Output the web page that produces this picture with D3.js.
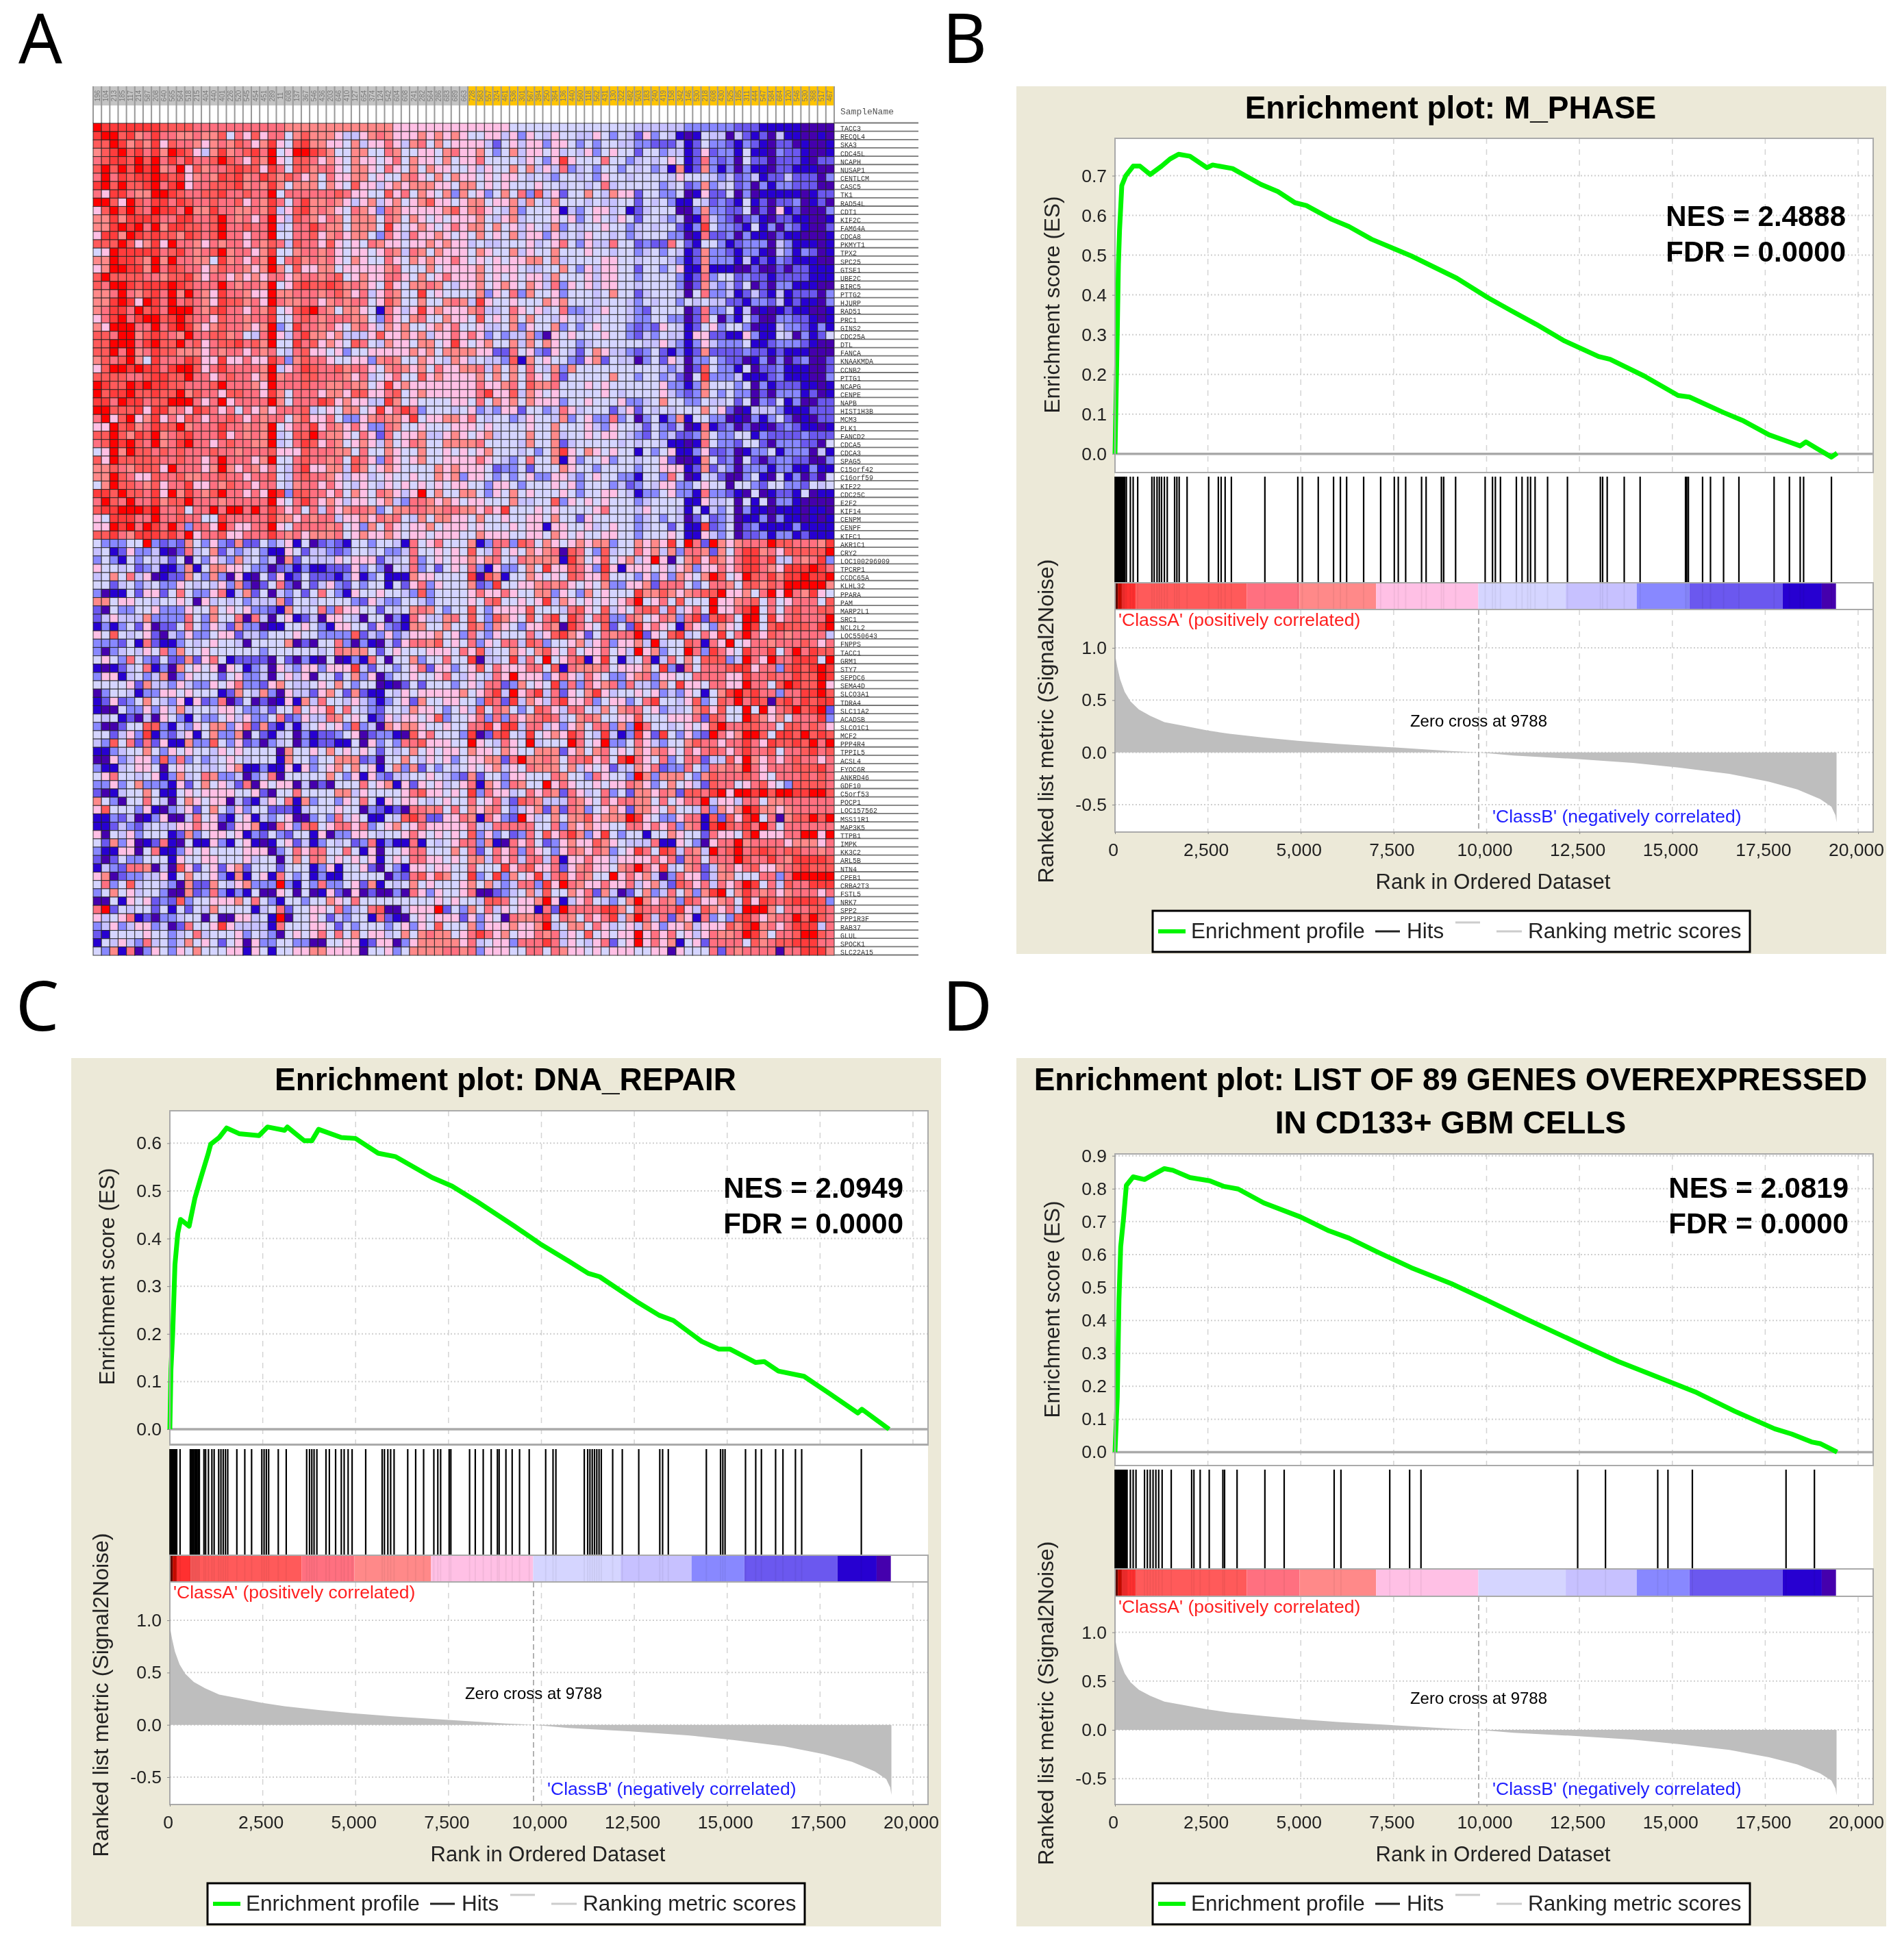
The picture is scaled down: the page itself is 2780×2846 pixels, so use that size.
<!DOCTYPE html>
<html>
<head>
<meta charset="utf-8">
<script src="https://cdn.jsdelivr.net/npm/d3@7/dist/d3.min.js"></script>
<style>
  html, body { margin: 0; background: #fff; }
  svg { display: block; filter: blur(0.6px); font-family: "Liberation Sans", sans-serif; }
</style>
</head>
<body>
<svg id="fig"></svg>
<script>
// heat map: one hex digit per cell, 0 = darkest purple ... b = pure red
const heatPalette = ["#4500ad","#2700d1","#6b58ef","#8888ff","#c7c1ff","#d5d5ff","#ffc0e5","#ff8989","#ff7080","#ff5a5a","#ff3c3c","#ff0000"]

const heatRows = [
"baaaa aaa99 99888 88888 88877 77777 77777 76666 66666 66666 55555 55555 55555 44444 43333 33222 11111 0000",
"abb9a 78a88 77877 95869 68857 97776 44678 76667 67676 55664 63654 65544 65354 26354 10154 40421 20411 0010",
"99ba7 97a69 88767 87986 7a659 a7766 57466 86478 57566 66425 64663 66535 35544 33222 41253 32132 10220 1001",
"79ab9 a8a7b a9647 a789a 8b56b ba975 57755 87556 65786 67535 74665 64546 35655 25534 41262 33151 10322 1001",
"89aa9 b9b8a 8a889 b9869 7b659 98676 57665 68576 65756 68555 54653 6a655 58553 45456 51283 23052 20222 1022",
"9b9b9 bab78 b6978 89a99 6a859 97886 57765 86575 76655 64655 75746 48345 35535 45341 71273 13031 10221 1100",
"8b8a9 aaba9 a6787 a9a78 a9798 67586 67756 55786 57576 65656 65454 35545 36554 55554 65554 34234 12242 2203",
"ab9b9 9ab8a b6889 99a78 7a757 77576 59664 67677 76657 75656 55565 54554 58455 55534 52373 45230 31332 2200",
"86aa8 77bba 98899 a8898 8b588 88889 86655 96857 65737 56357 58394 62557 54766 25533 50162 25030 11111 0122",
"bb96b 98aa8 a9889 88968 7a858 a7787 64674 67567 96656 77566 74754 75554 54455 25453 11542 32151 20223 0120",
"69b9b 98baa 8b77a 88778 7a469 a7876 58763 87666 66796 78654 73555 61435 66451 24555 00373 32250 20612 0003",
"77a7a aaa88 aa889 b8786 8b649 87687 57775 87576 56566 67546 74555 65635 65465 25543 40184 32023 10221 1001",
"77aba b8b7a a9989 b8898 8b458 8a877 57775 a6567 65686 77575 64654 73545 56553 45455 213a5 33215 13032 1002",
"6aa7b a9a99 7a989 b8868 8b558 89678 67753 86486 67656 57565 74663 64546 55453 45553 30182 23031 10211 0001",
"999b9 67a6b 88768 78868 79849 88696 56587 66566 76766 45445 55645 68536 44855 23228 52155 31233 30431 1101",
"56baa aaa89 a8789 b7886 7a557 88786 56656 87487 57666 57655 74655 75556 55455 34535 41273 32133 10431 3201",
"77baa 97b7b 88775 a7868 7b589 78786 57655 86576 76686 56565 66775 74555 56655 45554 31273 33141 21321 1100",
"67bba a7b8a 98867 98876 7b759 66775 66666 78555 75666 67566 65445 57536 46655 25535 61171 11002 00202 2111",
"9b999 98879 9a768 86767 68867 88789 56766 88657 56866 67565 65664 75556 46655 35555 31283 55232 21222 2111",
"98bba 9aaab a9888 b8788 7b569 a99a9 78765 96577 87546 67567 65764 83656 46655 45555 30274 34250 20331 1100",
"778b8 79a8b 7b876 a8876 6b778 88789 76846 8755a 56555 57365 83755 63555 45755 24555 40583 34124 21412 2203",
"77aba 6ba8b 89876 a9978 6b877 88678 78856 97557 55787 4a655 65557 67555 45554 35455 35454 42213 32412 1103",
"78aa8 b9a8b bb879 a8868 7a569 ab875 77651 8646a 67666 78445 86564 58334 46554 32555 50283 35140 10121 1001",
"68ab8 abb9a b9886 98878 8a558 98788 87753 86578 55766 59565 75755 46544 55554 33553 30285 03152 00332 2101",
"76bbb 88b8a ba767 98876 7b35a 88786 57864 76755 67685 56445 73655 73535 65553 23265 41256 35530 11433 2131",
"998bb 79a98 7b889 97854 8b648 a7767 44469 66767 46686 86353 44730 65655 56553 24354 41662 21163 11540 3125",
"99bbb 8ab99 b8968 99a89 7b55a 89676 59854 76657 756a6 56755 74757 65534 55555 54464 31364 33351 12333 2100",
"99b8b 78a99 77768 78868 78548 96656 35566 66676 75777 76622 85632 65425 76443 23521 31272 22232 21211 1000",
"7989b 75a88 8a966 a6686 6a837 98865 56637 87557 65476 45443 91756 55326 72544 03526 40335 32201 30302 3002",
"69bba baa8a bb968 a8888 7b468 a9889 78865 78767 58667 78475 75854 73755 55555 55543 40295 33150 22311 1002",
"99998 89aa9 9b886 89886 7b788 99888 76845 68559 67666 67575 75865 82555 55755 35534 205a3 33411 12311 1003",
"ba99b abaa9 98889 b8887 6b888 98877 87756 a6766 66666 68667 85977 85556 56555 55563 31375 55350 31222 1101",
"b9aab 99a99 b7988 69988 6a758 88677 69966 89567 66666 68a66 94765 65555 56545 55564 32375 35330 20333 1201",
"aa8ba a899b bb868 b6888 8b758 88a96 76644 a7565 55566 58576 75766 63556 55563 34575 53354 45250 32513 0022",
"bb999 a6aa7 86a98 68586 76888 94565 7756a 68a83 55545 63436 62553 48645 55246 25454 55575 62014 44311 1222",
"8b69b 67a68 69868 89868 78857 96685 33678 776a5 66776 85455 34655 47356 33835 03513 71553 30103 13520 1022",
"66b9a 78a99 b7888 a8878 7b568 8a687 68633 87556 55566 65655 55655 75556 43655 42532 40181 23020 10232 1101",
"99b97 a9b78 9a888 a6878 7b459 9b877 65862 85667 44676 56745 55755 74556 56654 32534 22375 33551 32222 3222",
"89bab 98b78 ab886 89887 7b458 a9687 56764 75687 55777 78555 54755 72455 55545 45541 10185 33255 20333 2205",
"56b7b 99898 98889 88788 89666 98887 75855 76557 55656 56755 54535 7a657 65655 15356 11362 23013 35133 3041",
"96b99 99988 98868 b8886 7b558 98878 59863 86567 55666 68654 35855 71635 56355 45562 00175 23052 02332 2003",
"77987 9996b 88867 b7687 68548 a6677 49756 76555 57676 66523 35255 57655 35555 35566 61272 43033 31331 1311",
"77b98 66988 97788 98868 89548 98876 46645 65565 57673 66535 35633 66435 65533 15538 50154 20035 10513 0205",
"57b99 87968 8a668 79886 88547 88686 54654 65656 56566 55366 53555 65635 55342 35466 33565 50553 25533 2545",
"aa9b9 98a6b 7a879 b8868 6ba39 98868 57658 7646b 57557 75365 75655 56535 56654 13356 33183 32105 01221 5011",
"8b98b 88a79 9b888 78888 8b658 a8676 46656 74388 76765 66555 74455 93656 56555 34555 51164 45051 50331 0000",
"9aabb bab88 9588b 8bb8b 8a868 58486 78873 57788 77887 7686a 55565 65555 68555 46555 41514 35031 10111 0110",
"65aaa 88b88 98855 a8888 8a776 87884 66768 78547 57766 57556 55665 75526 55555 34535 40252 34011 30311 0101",
"66bab 8ba8b 83886 b8668 8b658 88878 56375 86566 75666 56555 65661 66556 45655 34552 511a2 35023 11113 1111",
"99a87 aaa9a 8b688 96688 8a878 67778 56766 76566 56665 57666 55665 76565 56655 35556 51164 35022 31331 2111",
"53335 5b323 27536 32722 53461 50232 15535 54185 68555 71388 39857 65676 77355 7676a 5b82b 76788 8b998 887a",
"45126 33410 28457 24345 31165 24432 35545 33485 56565 95485 65767 80985 39455 86747 38872 758aa 78699 999b",
"35315 35442 50536 43745 34072 54446 56662 44583 56566 76785 48777 71a75 69567 46b60 57969 768aa 8a448 78a3",
"65545 23411 37157 76653 30231 31122 26353 05483 52565 83163 3575a 66986 3a616 66564 67366 868aa 876aa aba8",
"45758 46012 27537 30610 52612 52221 36135 11176 65555 a0971 55765 65986 69555 36363 7657b 956b9 8a7aa baab",
"55245 34533 65454 63720 25820 52463 25355 15268 36555 723a5 56678 78656 57336 67288 85358 87599 798bb bbb7",
"30115 26625 85336 81472 50435 25853 16556 55439 35555 68668 65577 36537 56555 a7797 67899 b6675 8b6b8 7a65",
"77566 55455 65064 54534 44725 54555 53264 33554 35555 65895 5656a 47656 56568 b5685 9555b 66789 58568 8859",
"20533 55633 36557 56563 32175 45838 66552 54578 75355 95366 66955 54896 59465 89949 4685b 668ab 58589 8899",
"24644 47333 38537 55808 40561 24066 54055 03186 44785 95397 65958 a5a85 89338 75687 38a29 a85bb 5a689 888b",
"13135 26022 58536 42733 01155 65316 65526 32177 55755 97376 53668 70a86 59252 a6865 18653 765ba 59a99 98ab",
"65954 56204 36335 66244 35556 55333 39243 63466 67563 84365 55846 9a762 58788 b2659 a4586 a58b8 69878 8884",
"33325 18211 35456 55405 55570 20558 30310 42688 79565 83658 84983 55674 68366 74b45 59818 6b568 87888 9868",
"30345 46583 75565 55555 35555 55458 77752 56555 66658 69455 76579 65856 68564 b6735 5b83a 865a8 8a58b 8a99",
"56538 53252 27268 51222 20520 31050 13185 05573 55855 a0445 a485b 56891 6a514 58148 57599 934b8 6b88a aa5b",
"10124 58130 75656 06513 40643 66366 6a425 53568 26635 69586 66885 91877 78566 675a3 08588 89aa6 8839a 9aba",
"36614 53470 36555 25633 40564 60552 57360 35565 56854 65486 b6663 68648 65336 78366 55888 866a8 8988a 99ba",
"55556 27443 64336 56833 26754 45657 53550 10252 55535 64882 37565 a3838 67838 44375 a6658 866b8 859ba 99b6",
"03554 13366 56555 12754 73064 42675 27211 54656 66667 568a4 b68a4 82657 a6455 65634 36515 7ab9a 88388 aab9",
"12623 57543 61623 80250 20161 74855 46431 35627 55665 53982 a4764 8a668 35663 58a55 46935 98b8a 909a8 a9aa",
"10053 36364 74554 66533 42558 56695 85432 55476 65356 49587 53598 64885 47578 85634 45796 955b5 b689b 9ab2",
"54512 04065 31533 56463 35823 64487 56512 64665 69355 68383 86789 84578 75566 95556 66829 855b9 76758 88a3",
"30025 59931 43657 73682 72141 45656 39340 76776 55655 88a6a a4884 63675 88373 b8554 56569 b8899 88599 8986",
"55246 3a132 46157 33705 21450 31223 56023 31096 85553 a029a 54a56 76a85 4a413 a62a5 3632b 867bb 95aa9 b9a9",
"43958 28261 17339 53623 03450 31221 15063 53889 66655 b6548 65b45 55b85 6b335 86435 57988 688a8 6a99a 9b8b",
"11345 57536 56554 65655 55075 56575 65652 54575 65665 76657 65577 72675 78565 76786 58689 868a8 89588 9a89",
"00634 66393 83534 56545 55175 53557 77230 55754 65635 66772 8b778 75889 685ab 86583 58824 496b7 68689 8868",
"31145 66505 65544 56711 31161 63567 57561 57372 53545 65674 65877 75746 56244 76823 38538 787b8 68889 99a8",
"56855 45613 74587 33403 48055 55575 36163 24455 65432 72553 66555 87553 86553 b7377 75379 88898 65888 9898",
"33635 73331 62575 64280 65660 40205 55856 71626 56456 81763 8755b 68655 65668 76357 56429 88568 96539 9998",
"20145 57511 56566 66556 20558 55557 74655 55689 66565 a3866 45868 72864 58352 77687 2998a b6bba b9bba abb9",
"75305 58540 57656 60421 46581 73553 65851 65665 45655 85684 29874 44876 58688 77585 688b4 66488 57788 8888",
"69555 36103 46257 53635 52221 45556 55032 12088 78585 76785 34672 72873 56762 77657 55483 767ba 77678 8888",
"11324 01360 04856 21561 43560 03538 46511 549a8 22668 71863 2b645 75779 6777b a6533 68819 296ab 58079 9b9b",
"11243 24544 66866 02667 10863 89568 86835 67568 66666 84488 88855 83767 66558 86868 3781a b98a8 b8588 8888",
"60546 35551 27356 65613 25325 51603 36654 55686 56565 93635 23859 68a73 6a535 51557 65528 6659b 66688 bb6b",
"52736 01281 05116 31561 01562 41354 52381 31181 54568 83710 86852 36766 97654 44811 65306 88b78 88867 7768",
"31166 05811 36565 55566 60358 68855 85160 55688 55575 82586 83865 36876 87356 a85a9 4874b 89b89 a9899 8878",
"20253 35551 65566 55564 55057 58756 56561 56588 66565 77486 84884 81668 66466 66868 27858 88b98 8a87a aaa9",
"14328 87040 96256 26725 55255 51361 55620 53166 56655 8555a 68966 82678 66578 b86a4 57824 78689 66789 a999",
"67023 34461 57556 31715 61853 51311 55555 03289 69755 a35a3 756a4 89687 55b68 67403 86624 77555 8838b bbbb",
"58359 45543 07227 54673 33b31 53833 56271 54575 65556 75743 4883a 6b876 68668 46742 98684 868ba 58498 8aaa",
"35756 45530 07238 31315 00650 50162 06020 03086 36556 80023 45749 55768 27402 57348 5737a b57a8 78678 8868",
"00516 56232 93556 66758 53155 35576 58555 55555 56565 54998 5667b 61468 54357 b7687 39866 785a6 a989a aa93",
"8b254 55251 52547 55551 45825 56658 34589 00466 6b253 75846 56618 2b888 8aa75 98888 a6497 684bb b7588 8998",
"64568 12033 45505 00664 51b05 56524 35518 21056 56662 63650 8778a 58758 68a47 b8482 76183 539a8 6788b 9b98",
"34634 66340 28556 a6444 41855 56652 53555 35636 59555 73666 7667b 45775 86456 47636 67466 697ab 7868a aa48",
"21555 56553 45845 55635 43056 56858 57566 45757 87756 8a867 56687 84659 56566 b6868 56468 778ba 75889 bb98",
"15464 38453 47565 25606 33553 30055 66126 60367 77776 84566 3888a 84654 68256 b6867 15628 88859 7899a aa88",
"53718 03653 65755 56616 51556 67766 66055 63577 77887 83666 55885 87665 65666 55660 65558 28788 88088 aaa7"
].map(s => s.replace(/ /g, "").split("").map(c => parseInt(c, 16)))

const greySamples = ["196","104","213","185","117","214","587","208","640","565","564","518","215","404","440","401","226","520","545","454","451","289","11","608","137","367","546","436","203","646","410","127","654","374","124","542","604","608","241","282","564","286","683","689","663"]
const goldSamples = ["728","583","557","324","461","536","301","567","394","250","364","136","440","560","118","562","431","130","322","482","503","183","240","419","158","342","146","530","218","608","430","525","185","311","444","547","584","664","120","546","530","368","517","467"]
const geneNames = ["TACC3","RECQL4","SKA3","CDC45L","NCAPH","NUSAP1","CENTLCM","CASC5","TK1","RAD54L","CDT1","KIF2C","FAM64A","CDCA8","PKMYT1","TPX2","SPC25","GTSE1","UBE2C","BIRC5","PTTG2","HJURP","RAD51","PRC1","GINS2","CDC25A","DTL","FANCA","KNAAKMDA","CCNB2","PTTG1","NCAPG","CENPE","NAPB","HIST1H3B","MCM3","PLK1","FANCD2","CDCA5","CDCA3","SPAG5","C15orf42","C16orf59","KIF22","CDC25C","E2F2","KIF14","CENPM","CENPF","KIFC1",
"AKR1C1","CRY2","LOC100296909","TPCRP1","CCDC65A","KLHL32","PPARA","PAM","MARP2L1","SRC1","NCL2L2","LOC550643","FNPPS","TACC1","GRM1","STY7","SEPDC6","SEMA4D","SLCO3A1","TDRA4","SLC11A2","ACADSB","SLCO1C1","MCF2","PPP4R4","TPPIL5","ACSL4","FYOC6R","ANKRD46","GDF10","C5orf53","POCP1","LOC157562","MSS11R1","MAP3K5","TTPB1","IMPK","KK3C2","ARL5B","NTN4","CPEB1","CRBA2T3","FSTL5","NRK7","SPP2","PPP1R3F","RAB37","GLUL","SPOCK1","SLC22A15"]

// enrichment curves as [rank, score]
const esB = [[0,0],[46,.224],[92,.477],[122,.562],[183,.675],[290,.70],[490,.724],[672,.724],[947,.703],[1253,.724],[1482,.742],[1711,.754],[2017,.749],[2475,.72],[2628,.727],[3163,.718],[3927,.678],[4385,.66],[4843,.632],[5149,.625],[5837,.59],[6295,.572],[6906,.54],[7975,.498],[9198,.442],[10038,.393],[10649,.361],[11337,.326],[12101,.284],[13017,.245],[13323,.238],[14240,.196],[15157,.147],[15462,.143],[16379,.104],[16914,.083],[17601,.048],[18136,.03],[18441,.02],[18594,.03],[18900,.013],[19282,-.008],[19435,.002]]
const esC = [[0,0],[30,.126],[76,.2],[137,.345],[214,.411],[290,.44],[519,.426],[672,.484],[825,.525],[1024,.576],[1100,.598],[1329,.612],[1528,.632],[1864,.62],[2399,.616],[2628,.634],[3086,.627],[3163,.634],[3621,.605],[3820,.605],[4003,.629],[4614,.612],[4996,.61],[5607,.579],[6066,.572],[7059,.528],[7594,.51],[8281,.477],[9274,.426],[9962,.389],[10726,.353],[11260,.327],[11566,.32],[12559,.268],[13170,.239],[13552,.228],[14316,.184],[14775,.168],[15080,.168],[15768,.14],[15997,.142],[16379,.122],[17067,.111],[17754,.075],[18518,.034],[18625,.042],[19358,0]]
const esD = [[0,0],[61,.167],[107,.464],[153,.624],[229,.709],[305,.81],[489,.836],[794,.828],[1100,.847],[1329,.861],[1558,.856],[2017,.834],[2551,.824],[2933,.807],[3315,.799],[4003,.757],[4996,.714],[5760,.672],[6295,.65],[7059,.608],[7975,.56],[9045,.512],[9962,.464],[11031,.406],[12559,.326],[13552,.275],[14545,.231],[15614,.183],[16684,.124],[17754,.071],[18212,.055],[18747,.031],[18976,.026],[19435,0]]

// hit positions in the ranked list
const hitsB = [5,25,45,65,85,105,125,145,165,185,205,225,245,265,306,413,489,611,993,1054,1131,1192,1253,1329,1406,1604,1665,1727,1940,2521,2781,2857,2964,3132,4034,4920,5042,5470,5882,6066,6234,6692,7150,7517,7624,7823,8251,8373,8785,8846,9167,9962,10160,10237,10374,10802,10955,11108,11184,11306,11642,12177,13063,13124,13247,13705,14133,15355,15386,15432,15814,16027,16379,16792,17739,18151,18441,18533,19282]
const hitsC = [5,25,45,65,85,105,125,145,165,185,275,550,580,611,640,672,700,733,765,794,917,963,1039,1131,1192,1314,1375,1436,1497,1558,1803,2017,2200,2475,2536,2597,2659,2918,3132,3682,3759,3820,3881,3957,4202,4293,4461,4614,4691,4798,4905,5271,5714,5775,5867,5943,6035,6402,6616,6830,7105,7212,7288,7517,7563,8067,8220,8434,8648,8816,8862,9045,9213,9412,9672,10115,10313,10390,11154,11245,11306,11368,11429,11490,11551,11612,11918,12177,12620,13186,13262,13415,14439,14821,14882,14943,15493,15768,15921,16303,16501,16837,17005,18610]
const hitsD = [5,25,45,65,85,105,125,145,165,185,205,225,245,265,285,305,325,413,489,565,794,871,947,1024,1100,1176,1268,1513,2063,2124,2292,2536,2903,2949,3285,4034,4553,5898,6081,7395,7930,8235,12452,13201,14607,14882,15539,18060,18824]

// correlation profile shared by all three plots
const metricProfile = [[0,.94],[61,.82],[137,.70],[260,.58],[413,.49],[642,.41],[947,.35],[1329,.29],[1864,.253],[2475,.21],[3086,.178],[4003,.142],[4920,.111],[5989,.081],[7364,.051],[9045,.012],[9788,0],[10726,-.03],[12406,-.063],[13934,-.1],[15157,-.145],[16532,-.205],[17601,-.28],[18364,-.355],[18976,-.446],[19282,-.52],[19389,-.6],[19420,-.67]]

const barBreaks = [0,76,183,565,3545,4966,7028,9778,12131,14041,15462,17968,19022,19404]
const barColors = ["#6b0c00","#d60c00","#ff3030","#ff5a5a","#ff7080","#ff8989","#ffc0e5","#d5d5ff","#c7c1ff","#8888ff","#6b58ef","#2700d1","#4500ad"]

const xTicks = [0,2500,5000,7500,10000,12500,15000,17500,20000]
const esTicksB = [0,.1,.2,.3,.4,.5,.6,.7]
const esTicksC = [0,.1,.2,.3,.4,.5,.6]
const esTicksD = [0,.1,.2,.3,.4,.5,.6,.7,.8,.9]
const metricTicks = [-.5,0,.5,1]
const zeroCross = 9788

const svg = d3.select("#fig").attr("width", 2780).attr("height", 2846)
svg.append("rect").attr("width", 2780).attr("height", 2846).attr("fill", "#fff")

// panel letters
const panelLetters = [["A",27,92],["B",1376,92],["C",23,1505],["D",1376,1505]]
svg.selectAll("text.letter").data(panelLetters).enter().append("text")
  .attr("class", "letter")
  .attr("x", d => d[1]).attr("y", d => d[2])
  .style("font-family", "'Noto Sans'").style("font-size", "100px")
  .text(d => d[0])

// ---- panel A heat map ----
const samples = greySamples.concat(goldSamples)
const heatX = d3.scaleBand().domain(d3.range(samples.length)).range([136, 1218])
const heatY = d3.scaleBand().domain(d3.range(geneNames.length)).range([180, 1395])
const heatColor = d3.scaleOrdinal().domain(d3.range(12)).range(heatPalette)

const heat = svg.append("g")

heat.selectAll("rect.head").data(samples).enter().append("rect")
  .attr("x", (d, i) => heatX(i)).attr("y", 126)
  .attr("width", heatX.bandwidth()).attr("height", 28)
  .attr("fill", (d, i) => i < greySamples.length ? "#c4c4c4" : "#ffc400")

heat.selectAll("line.sep").data(d3.range(samples.length + 1)).enter().append("line")
  .attr("x1", i => 136 + i * heatX.step()).attr("x2", i => 136 + i * heatX.step())
  .attr("y1", 126).attr("y2", 180)
  .attr("stroke", "#999").attr("stroke-width", 2)

heat.selectAll("text.sample").data(samples).enter().append("text")
  .attr("transform", (d, i) => `translate(${heatX(i) + heatX.bandwidth() / 2 + 3.5},140) rotate(-90)`)
  .attr("text-anchor", "middle")
  .style("font-size", "10px").style("fill", "#777")
  .text(d => d)

const heatRow = heat.selectAll("g.row").data(heatRows).enter().append("g")
heatRow.selectAll("rect").data((d, i) => d.map((v, j) => ({ v, j, i }))).enter().append("rect")
  .attr("x", d => heatX(d.j)).attr("y", d => heatY(d.i))
  .attr("width", heatX.bandwidth()).attr("height", heatY.bandwidth())
  .attr("fill", d => heatColor(d.v))
  .attr("stroke", "#222").attr("stroke-width", 1.1).attr("stroke-opacity", 0.8)

heat.append("text").attr("x", 1227).attr("y", 167)
  .style("font-family", "'Liberation Mono'").style("font-size", "13px").style("fill", "#555")
  .text("SampleName")

heat.selectAll("line.rowline").data(d3.range(geneNames.length + 1)).enter().append("line")
  .attr("x1", 1218).attr("x2", 1341)
  .attr("y1", i => 180 + i * heatY.step() - 0.5).attr("y2", i => 180 + i * heatY.step() - 0.5)
  .attr("stroke", "#777").attr("stroke-width", 1.8)

heat.selectAll("text.gene").data(geneNames).enter().append("text")
  .attr("x", 1227).attr("y", (d, i) => heatY(i) + heatY.bandwidth() - 1)
  .style("font-family", "'Liberation Mono'").style("font-size", "10px").style("fill", "#333")
  .text(d => d)

// ---- panels B, C, D enrichment plots ----
function enrichmentPlot(p) {
  const g = svg.append("g")

  g.append("rect").attr("x", p.left - 144).attr("y", p.top)
    .attr("width", 1270).attr("height", p.bottom - p.top).attr("fill", "#ece9d8")

  p.title.forEach((t, i) => {
    g.append("text").attr("x", p.titleX).attr("y", p.titleY + i * 63)
      .attr("text-anchor", "middle")
      .style("font-size", "46px").style("font-weight", "bold")
      .text(t)
  })

  const plotRight = p.left + 1107
  const x = d3.scaleLinear().domain([0, 20000]).range([p.left, p.left + 1085])
  const yEs = d3.scaleLinear().domain(p.esDomain).range([p.esBottom, p.esTop])
  const yMetric = d3.scaleLinear().domain(p.metricDomain).range([p.rankBottom, p.barBottom])

  g.append("rect").attr("x", p.left).attr("y", p.esTop)
    .attr("width", plotRight - p.left).attr("height", p.rankBottom - p.esTop)
    .attr("fill", "#fff")

  // grid
  const vGrid = (y1, y2) => g.append("g").selectAll("line").data(xTicks.slice(1)).enter().append("line")
    .attr("x1", d => x(d)).attr("x2", d => x(d)).attr("y1", y1).attr("y2", y2)
    .attr("stroke", "#d4d4d4").attr("stroke-width", 1.5).attr("stroke-dasharray", "8,8")
  vGrid(p.esTop, p.esBottom)
  vGrid(p.barBottom, p.rankBottom)

  const hGrid = (ticks, y) => g.append("g").selectAll("line").data(ticks).enter().append("line")
    .attr("x1", p.left).attr("x2", plotRight).attr("y1", d => y(d)).attr("y2", d => y(d))
    .attr("stroke", "#cfcfcf").attr("stroke-width", 2).attr("stroke-dasharray", "2,3")
  hGrid(p.esTicks, yEs)
  hGrid(metricTicks, yMetric)

  // hits
  g.append("g").selectAll("line").data(p.hits).enter().append("line")
    .attr("x1", d => x(d)).attr("x2", d => x(d))
    .attr("y1", p.hitsTop).attr("y2", p.barTop - 1)
    .attr("stroke", "#000").attr("stroke-width", 2.2)

  // colour bar
  g.append("g").selectAll("rect").data(barColors).enter().append("rect")
    .attr("x", (d, i) => x(barBreaks[i])).attr("y", p.barTop)
    .attr("width", (d, i) => x(barBreaks[i + 1]) - x(barBreaks[i]))
    .attr("height", p.barBottom - p.barTop)
    .attr("fill", d => d)
  g.append("g").selectAll("line").data(p.hits).enter().append("line")
    .attr("x1", d => x(d)).attr("x2", d => x(d))
    .attr("y1", p.barTop).attr("y2", p.barBottom)
    .attr("stroke", "#000").attr("stroke-opacity", 0.05).attr("stroke-width", 2)

  // ranking metric
  const area = d3.area().x(d => x(d[0])).y0(yMetric(0)).y1(d => yMetric(d[1]))
  g.append("path").datum(metricProfile).attr("d", area).attr("fill", "#bebebe")

  // zero cross marker
  g.append("line").attr("x1", x(zeroCross)).attr("x2", x(zeroCross))
    .attr("y1", p.barBottom).attr("y2", p.rankBottom)
    .attr("stroke", "#999").attr("stroke-width", 1.5).attr("stroke-dasharray", "8,5")
  g.append("text").attr("x", x(zeroCross)).attr("y", yMetric(0) - 38)
    .attr("text-anchor", "middle").style("font-size", "24px")
    .text("Zero cross at " + zeroCross)

  // class labels
  g.append("text").attr("x", p.left + 5).attr("y", p.barBottom + 24)
    .style("font-size", "26.5px").style("fill", "#ff2020")
    .text("'ClassA' (positively correlated)")
  g.append("text").attr("x", p.left + 551).attr("y", p.rankBottom - 14)
    .style("font-size", "26.5px").style("fill", "#2020ff")
    .text("'ClassB' (negatively correlated)")

  // ES curve
  g.append("line").attr("x1", p.left).attr("x2", plotRight)
    .attr("y1", yEs(0)).attr("y2", yEs(0)).attr("stroke", "#aaa").attr("stroke-width", 3.5)
  const esLine = d3.line().x(d => x(d[0])).y(d => yEs(d[1]))
  g.append("path").datum(p.es).attr("d", esLine)
    .attr("fill", "none").attr("stroke", "#00f500").attr("stroke-width", 7)
    .attr("stroke-linejoin", "round")

  // frames
  const frame = [[p.esTop, p.esBottom], [p.esBottom, p.hitsTop - 6], [p.barTop, p.barBottom], [p.barBottom, p.rankBottom]]
  g.append("g").selectAll("rect").data(frame).enter().append("rect")
    .attr("x", p.left).attr("y", d => d[0])
    .attr("width", plotRight - p.left).attr("height", d => d[1] - d[0])
    .attr("fill", "none").attr("stroke", "#aaa").attr("stroke-width", 2)

  // axes
  const xAxis = g.append("g").attr("transform", `translate(0,${p.rankBottom})`)
    .call(d3.axisBottom(x).tickValues(xTicks).tickFormat(d3.format(",")).tickSize(3).tickPadding(13))
  xAxis.selectAll("text").attr("dx", -3)
  const esAxis = g.append("g").attr("transform", `translate(${p.left},0)`)
    .call(d3.axisLeft(yEs).tickValues(p.esTicks).tickFormat(d => d.toFixed(1)).tickSize(4).tickPadding(8))
  const metricAxis = g.append("g").attr("transform", `translate(${p.left},0)`)
    .call(d3.axisLeft(yMetric).tickValues(metricTicks).tickFormat(d => d.toFixed(1)).tickSize(4).tickPadding(8))
  ;[xAxis, esAxis, metricAxis].forEach(a => {
    a.select(".domain").remove()
    a.selectAll("text").style("font-size", "26.5px").style("font-family", "'Liberation Sans'").style("fill", "#222")
    a.selectAll("line").attr("stroke", "#888")
  })

  // axis titles
  g.append("text").attr("transform", `translate(${p.left - 81},${p.esLabelY}) rotate(-90)`)
    .attr("text-anchor", "middle").style("font-size", "31.5px").style("fill", "#222")
    .text("Enrichment score (ES)")
  g.append("text").attr("transform", `translate(${p.left - 90},${p.metricLabelY}) rotate(-90)`)
    .attr("text-anchor", "middle").style("font-size", "32px").style("fill", "#222")
    .text("Ranked list metric (Signal2Noise)")
  g.append("text").attr("x", p.left + 552).attr("y", p.lower + 1298)
    .attr("text-anchor", "middle").style("font-size", "31px").style("fill", "#222")
    .text("Rank in Ordered Dataset")

  // statistics
  p.stats.forEach((t, i) => {
    g.append("text").attr("x", p.statsX).attr("y", p.statsY + i * 52)
      .attr("text-anchor", "end").style("font-size", "42px").style("font-weight", "bold")
      .text(t)
  })

  // legend
  const ly = p.lower + 1360
  const lx = p.left + 55
  const legend = g.append("g")
  legend.append("rect").attr("x", lx).attr("y", ly - 30).attr("width", 872).attr("height", 60)
    .attr("fill", "#fff").attr("stroke", "#000").attr("stroke-width", 3)
  legend.append("line").attr("x1", lx + 8).attr("x2", lx + 48).attr("y1", ly).attr("y2", ly)
    .attr("stroke", "#00f500").attr("stroke-width", 6)
  legend.append("line").attr("x1", lx + 325).attr("x2", lx + 361).attr("y1", ly).attr("y2", ly)
    .attr("stroke", "#222").attr("stroke-width", 3)
  legend.append("line").attr("x1", lx + 442).attr("x2", lx + 478).attr("y1", ly - 13).attr("y2", ly - 13)
    .attr("stroke", "#ccc").attr("stroke-width", 3)
  legend.append("line").attr("x1", lx + 502).attr("x2", lx + 539).attr("y1", ly).attr("y2", ly)
    .attr("stroke", "#ccc").attr("stroke-width", 3)
  const legendText = [["Enrichment profile", 56], ["Hits", 371], ["Ranking metric scores", 548]]
  legend.selectAll("text").data(legendText).enter().append("text")
    .attr("x", d => lx + d[1]).attr("y", ly + 10)
    .style("font-size", "31.5px").style("fill", "#222")
    .text(d => d[0])
}

enrichmentPlot({
  left: 1628, lower: 0, top: 126, bottom: 1393,
  title: ["Enrichment plot: M_PHASE"], titleX: 2118, titleY: 173,
  stats: ["NES = 2.4888", "FDR = 0.0000"], statsX: 2695, statsY: 330,
  esTop: 202, esBottom: 690, esDomain: [-.047, .794], esTicks: esTicksB, es: esB,
  hits: hitsB, hitsTop: 696, barTop: 851, barBottom: 890,
  rankBottom: 1215, metricDomain: [-.762, 1.367],
  esLabelY: 445, metricLabelY: 1053
})
enrichmentPlot({
  left: 248, lower: 1420, top: 1545, bottom: 2813,
  title: ["Enrichment plot: DNA_REPAIR"], titleX: 738, titleY: 1592,
  stats: ["NES = 2.0949", "FDR = 0.0000"], statsX: 1319, statsY: 1749,
  esTop: 1622, esBottom: 2109, esDomain: [-.0316, .668], esTicks: esTicksC, es: esC,
  hits: hitsC, hitsTop: 2116, barTop: 2271, barBottom: 2310,
  rankBottom: 2635, metricDomain: [-.762, 1.367],
  esLabelY: 1864, metricLabelY: 2475
})
enrichmentPlot({
  left: 1628, lower: 1420, top: 1545, bottom: 2813,
  title: ["Enrichment plot: LIST OF 89 GENES OVEREXPRESSED", "IN CD133+ GBM CELLS"], titleX: 2118, titleY: 1592,
  stats: ["NES = 2.0819", "FDR = 0.0000"], statsX: 2699, statsY: 1749,
  esTop: 1685, esBottom: 2140, esDomain: [-.0406, .9056], esTicks: esTicksD, es: esD,
  hits: hitsD, hitsTop: 2146, barTop: 2291, barBottom: 2331,
  rankBottom: 2635, metricDomain: [-.765, 1.369],
  esLabelY: 1912, metricLabelY: 2487
})
</script>
</body>
</html>
